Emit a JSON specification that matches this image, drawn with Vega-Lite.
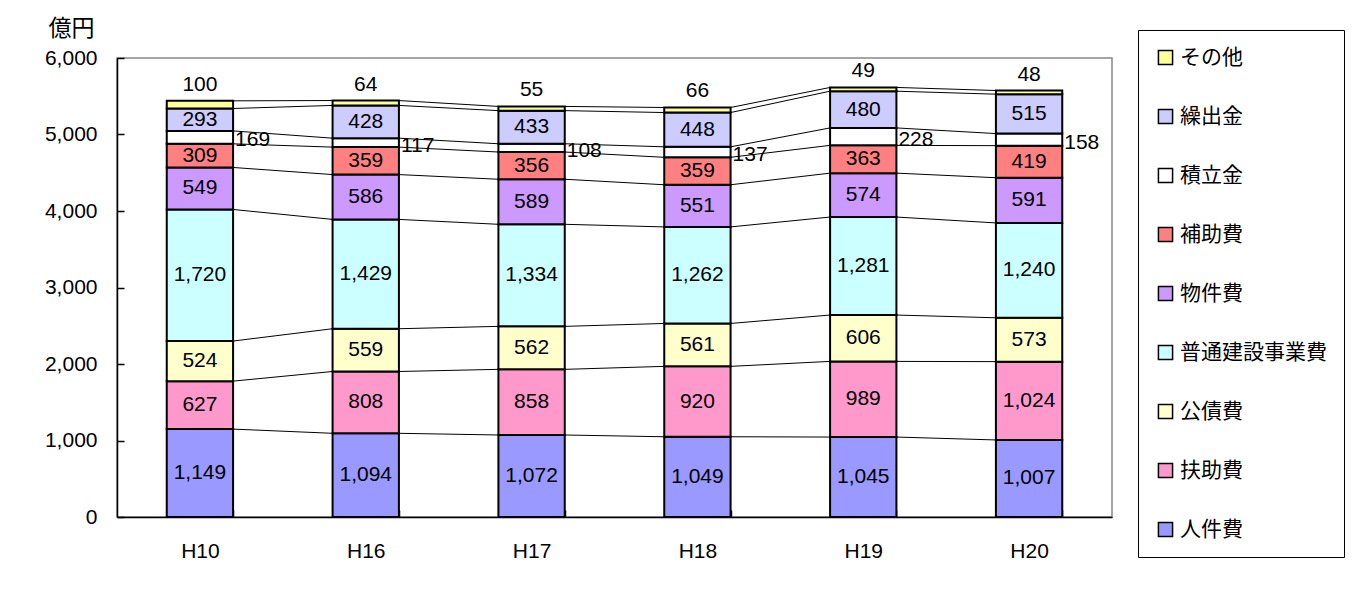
{
  "$schema": "https://vega.github.io/schema/vega-lite/v6.json",
  "width": 995,
  "height": 459,
  "autosize": {"type": "none"},
  "padding": {"left": 117, "top": 58, "right": 241, "bottom": 72},
  "background": "white",
  "config": {
    "view": {"stroke": "#888888", "strokeWidth": 1.5},
    "axis": {"labelFont": "Liberation Sans", "labelFontSize": 21, "labelColor": "black", "domainColor": "black", "tickColor": "black", "domainWidth": 1.5, "tickWidth": 1.5, "grid": false}
  },
  "data": {
    "values": [
      {"year": "H10", "cat": "人件費", "value": 1149},
      {"year": "H10", "cat": "扶助費", "value": 627},
      {"year": "H10", "cat": "公債費", "value": 524},
      {"year": "H10", "cat": "普通建設事業費", "value": 1720},
      {"year": "H10", "cat": "物件費", "value": 549},
      {"year": "H10", "cat": "補助費", "value": 309},
      {"year": "H10", "cat": "積立金", "value": 169},
      {"year": "H10", "cat": "繰出金", "value": 293},
      {"year": "H10", "cat": "その他", "value": 100},
      {"year": "H16", "cat": "人件費", "value": 1094},
      {"year": "H16", "cat": "扶助費", "value": 808},
      {"year": "H16", "cat": "公債費", "value": 559},
      {"year": "H16", "cat": "普通建設事業費", "value": 1429},
      {"year": "H16", "cat": "物件費", "value": 586},
      {"year": "H16", "cat": "補助費", "value": 359},
      {"year": "H16", "cat": "積立金", "value": 117},
      {"year": "H16", "cat": "繰出金", "value": 428},
      {"year": "H16", "cat": "その他", "value": 64},
      {"year": "H17", "cat": "人件費", "value": 1072},
      {"year": "H17", "cat": "扶助費", "value": 858},
      {"year": "H17", "cat": "公債費", "value": 562},
      {"year": "H17", "cat": "普通建設事業費", "value": 1334},
      {"year": "H17", "cat": "物件費", "value": 589},
      {"year": "H17", "cat": "補助費", "value": 356},
      {"year": "H17", "cat": "積立金", "value": 108},
      {"year": "H17", "cat": "繰出金", "value": 433},
      {"year": "H17", "cat": "その他", "value": 55},
      {"year": "H18", "cat": "人件費", "value": 1049},
      {"year": "H18", "cat": "扶助費", "value": 920},
      {"year": "H18", "cat": "公債費", "value": 561},
      {"year": "H18", "cat": "普通建設事業費", "value": 1262},
      {"year": "H18", "cat": "物件費", "value": 551},
      {"year": "H18", "cat": "補助費", "value": 359},
      {"year": "H18", "cat": "積立金", "value": 137},
      {"year": "H18", "cat": "繰出金", "value": 448},
      {"year": "H18", "cat": "その他", "value": 66},
      {"year": "H19", "cat": "人件費", "value": 1045},
      {"year": "H19", "cat": "扶助費", "value": 989},
      {"year": "H19", "cat": "公債費", "value": 606},
      {"year": "H19", "cat": "普通建設事業費", "value": 1281},
      {"year": "H19", "cat": "物件費", "value": 574},
      {"year": "H19", "cat": "補助費", "value": 363},
      {"year": "H19", "cat": "積立金", "value": 228},
      {"year": "H19", "cat": "繰出金", "value": 480},
      {"year": "H19", "cat": "その他", "value": 49},
      {"year": "H20", "cat": "人件費", "value": 1007},
      {"year": "H20", "cat": "扶助費", "value": 1024},
      {"year": "H20", "cat": "公債費", "value": 573},
      {"year": "H20", "cat": "普通建設事業費", "value": 1240},
      {"year": "H20", "cat": "物件費", "value": 591},
      {"year": "H20", "cat": "補助費", "value": 419},
      {"year": "H20", "cat": "積立金", "value": 158},
      {"year": "H20", "cat": "繰出金", "value": 515},
      {"year": "H20", "cat": "その他", "value": 48}
    ]
  },
  "transform": [
    {"calculate": "indexof(['人件費','扶助費','公債費','普通建設事業費','物件費','補助費','積立金','繰出金','その他'], datum.cat)", "as": "ord"},
    {"stack": "value", "groupby": ["year"], "sort": [{"field": "ord", "order": "ascending"}], "as": ["v0", "v1"]},
    {"calculate": "(datum.v0 + datum.v1) / 2", "as": "mid"}
  ],
  "encoding": {
    "x": {
      "field": "year", "type": "nominal", "sort": ["H10", "H16", "H17", "H18", "H19", "H20"],
      "scale": {"paddingInner": 0.6, "paddingOuter": 0.3},
      "axis": {"title": null, "labelAngle": 0, "tickBand": "extent", "tickSize": -7, "labelPadding": 30}
    }
  },
  "layer": [
    {
      "mark": {"type": "bar", "stroke": "black", "strokeWidth": 2},
      "encoding": {
        "y": {
          "field": "v0", "type": "quantitative",
          "scale": {"domain": [0, 6000], "nice": false},
          "axis": {"values": [0, 1000, 2000, 3000, 4000, 5000, 6000], "format": ",d", "tickSize": -7, "labelPadding": 27,
                   "title": "億円", "titleAngle": 0, "titleX": -46, "titleY": -30, "titleAlign": "center", "titleBaseline": "middle",
                   "titleFont": "Noto Sans CJK JP", "titleFontSize": 23, "titleFontWeight": "normal", "titleColor": "black"}
        },
        "y2": {"field": "v1"},
        "color": {
          "field": "cat", "type": "nominal",
          "scale": {
            "domain": ["その他", "繰出金", "積立金", "補助費", "物件費", "普通建設事業費", "公債費", "扶助費", "人件費"],
            "range": ["#FFFF99", "#CCCCFF", "#FFFFFF", "#FF8080", "#CC99FF", "#CCFFFF", "#FFFFCC", "#FF99CC", "#9999FF"]
          },
          "legend": {
            "title": null, "orient": "none", "legendX": 1021, "legendY": -28,
            "symbolType": "square", "symbolSize": 200, "symbolStrokeColor": "black", "symbolStrokeWidth": 1.5, "symbolOpacity": 1,
            "labelFont": "Noto Sans CJK JP", "labelFontSize": 21, "labelColor": "black", "labelOffset": 4, "labelLimit": 300,
            "rowPadding": 37, "padding": 17, "strokeColor": "black", "fillColor": "white"
          }
        }
      }
    },
    {
      "transform": [
        {"window": [{"op": "lead", "field": "v1", "as": "n1"}, {"op": "lead", "field": "year", "as": "nyear"}], "groupby": ["cat"], "sort": [{"field": "year", "order": "ascending"}]},
        {"filter": "datum.nyear != null"}
      ],
      "mark": {"type": "rule", "color": "black", "strokeWidth": 1},
      "encoding": {
        "x": {"field": "year", "type": "nominal", "bandPosition": 1},
        "x2": {"field": "nyear", "bandPosition": 0},
        "y": {"field": "v1", "type": "quantitative"},
        "y2": {"field": "n1"}
      }
    },
    {
      "transform": [{"filter": "datum.cat != 'その他' && datum.cat != '積立金'"}],
      "mark": {"type": "text", "font": "Liberation Sans", "fontSize": 21, "color": "black", "baseline": "middle", "align": "center"},
      "encoding": {
        "y": {"field": "mid", "type": "quantitative"},
        "text": {"field": "value", "type": "quantitative", "format": ",d"}
      }
    },
    {
      "transform": [{"filter": "datum.cat == 'その他'"}],
      "mark": {"type": "text", "font": "Liberation Sans", "fontSize": 21, "color": "black", "baseline": "bottom", "align": "center", "dy": -6},
      "encoding": {
        "y": {"field": "v1", "type": "quantitative"},
        "text": {"field": "value", "type": "quantitative", "format": ",d"}
      }
    },
    {
      "transform": [{"filter": "datum.cat == '積立金'"}],
      "mark": {"type": "text", "font": "Liberation Sans", "fontSize": 21, "color": "black", "baseline": "middle", "align": "left", "dx": 2, "dy": 3},
      "encoding": {
        "x": {"field": "year", "type": "nominal", "bandPosition": 1},
        "y": {"field": "mid", "type": "quantitative"},
        "text": {"field": "value", "type": "quantitative", "format": ",d"}
      }
    }
  ]
}
